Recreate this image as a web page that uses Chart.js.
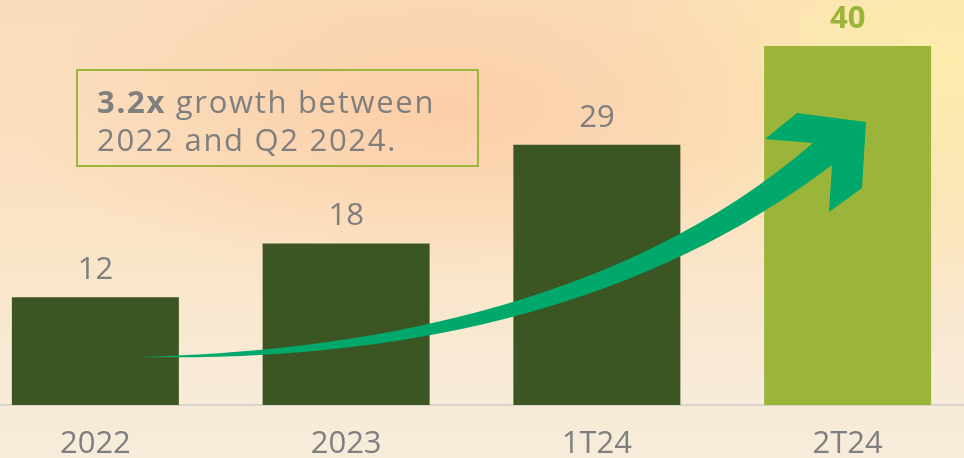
<!DOCTYPE html>
<html>
<head>
<meta charset="utf-8">
<script src="https://cdn.jsdelivr.net/npm/chart.js@4"></script>
<style>
  html, body { margin: 0; padding: 0; }
  body {
    width: 964px; height: 458px; overflow: hidden; position: relative;
    background:
      radial-gradient(ellipse 420px 170px at 440px 110px, rgba(252,205,165,0.9), rgba(252,205,165,0) 100%),
      radial-gradient(ellipse 350px 250px at 930px 60px, rgba(254,236,170,0.95), rgba(254,236,170,0) 100%),
      linear-gradient(180deg, #f9dcbc 0%, #fbe2c2 45%, #f8ead6 80%, #f7ecda 100%);
  }
  #wrap { position: absolute; left: -30px; top: 0; width: 1003px; height: 458px; }
  #note {
    position: absolute; left: 76px; top: 69px; width: 403px; height: 98px;
    box-sizing: border-box; border: 2px solid #9bb43a;
    padding: 11px 0 0 19px;
    font-family: "Open Sans", sans-serif; font-size: 31px; line-height: 38px;
    letter-spacing: 1.7px;
    color: #7f7f7f;
  }
  #note b { font-weight: 700; }
</style>
</head>
<body>
<div id="wrap"><canvas id="myChart" width="1003" height="458"></canvas></div>
<div id="note"><b>3.2x</b> growth between<br>2022 and Q2 2024.</div>
<script>
var labels = ['2022', '2023', '1T24', '2T24'];
var values = [12, 18, 29, 40];
var barColors = ['#3b5523', '#3b5523', '#3b5523', '#9bb43a'];

var valueLabels = {
    id: 'valueLabels',
    afterDatasetsDraw: function (chart) {
        var ctx = chart.ctx;
        var meta = chart.getDatasetMeta(0);
        ctx.save();
        ctx.textAlign = 'center';
        ctx.textBaseline = 'alphabetic';
        meta.data.forEach(function (bar, i) {
            var last = i === values.length - 1;
            ctx.font = (last ? 'bold ' : '') + '31px "Open Sans", sans-serif';
            ctx.fillStyle = last ? '#9bb43a' : '#7f7f7f';
            ctx.fillText(values[i], bar.x, bar.y - 18);
        });
        ctx.restore();
    }
};

// curved growth arrow drawn over the bars
var growthArrow = {
    id: 'growthArrow',
    afterDraw: function (chart) {
        var ctx = chart.ctx;
        ctx.save();
        ctx.translate(30, 0);
        ctx.fillStyle = '#00a86b';
        ctx.beginPath();
        ctx.moveTo(137, 357);
        ctx.bezierCurveTo(350, 352, 620, 310, 813, 143);
        ctx.lineTo(765, 139);
        ctx.lineTo(797, 113);
        ctx.lineTo(866, 122);
        ctx.lineTo(862, 188);
        ctx.lineTo(829, 212);
        ctx.lineTo(832, 165);
        ctx.bezierCurveTo(640, 310, 400, 362, 137, 357);
        ctx.closePath();
        ctx.fill();
        ctx.restore();
    }
};

var ctx = document.getElementById('myChart').getContext('2d');
var myChart = new Chart(ctx, {
    type: 'bar',
    data: {
        labels: labels,
        datasets: [{
            data: values,
            backgroundColor: barColors,
            categoryPercentage: 1,
            barPercentage: 0.666
        }]
    },
    options: {
        responsive: false,
        animation: false,
        layout: { padding: { top: 1, left: 0, right: 0, bottom: 0 } },
        plugins: { legend: { display: false }, tooltip: { enabled: false } },
        scales: {
            y: { display: false, min: 0, max: 45 },
            x: {
                grid: { display: false },
                border: { display: true, color: '#d6d2cc', width: 2 },
                ticks: {
                    color: '#7f7f7f',
                    padding: 13,
                    font: { family: '"Open Sans", sans-serif', size: 31 }
                },
                afterFit: function (scale) { scale.height = 53; }
            }
        }
    },
    plugins: [valueLabels, growthArrow]
});
</script>
</body>
</html>
